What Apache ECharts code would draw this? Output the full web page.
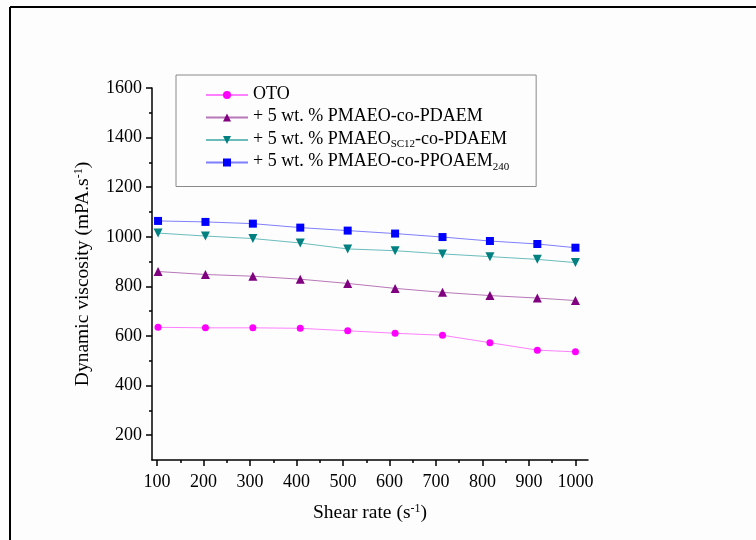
<!DOCTYPE html>
<html>
<head>
<meta charset="utf-8">
<script src="https://cdn.jsdelivr.net/npm/echarts@6/dist/echarts.min.js"></script>
<style>html,body{margin:0;padding:0;background:#fdfdfd;}#c{width:756px;height:540px;}</style>
</head>
<body>
<div id="c"></div>
<script>
// ---- data ----
var shearRate = [102, 204, 306, 408, 510, 612, 714, 816, 918, 1000];
var oto       = [635, 633, 633, 631, 621, 611, 603, 573, 543, 536];
var pdaem     = [860, 848, 841, 829, 812, 792, 776, 763, 753, 743];
var sc12      = [1015, 1003, 993, 975, 951, 944, 931, 920, 909, 896];
var ppoaem    = [1064, 1060, 1053, 1037, 1025, 1013, 999, 983, 971, 956];
var seriesNames = ['OTO', '+ 5 wt. % PMAEO-co-PDAEM', '+ 5 wt. % PMAEOSC12-co-PDAEM', '+ 5 wt. % PMAEO-co-PPOAEM240'];
var xTicks = [100, 200, 300, 400, 500, 600, 700, 800, 900, 1000];
var xMinorTicks = [150, 250, 350, 450, 550, 650, 750, 850, 950];
var yTicks = [200, 400, 600, 800, 1000, 1200, 1400, 1600];
var yMinorTicks = [300, 500, 700, 900, 1100, 1300, 1500];

var FONT = "'Liberation Serif', 'Times New Roman', serif";
function pairs(ys) { return shearRate.map(function (x, i) { return [x, ys[i]]; }); }
function plain(v) { return String(v); }

var legendRich = {
  m: { fontSize: 18, fontFamily: FONT, lineHeight: 20, verticalAlign: 'top' },
  sub: { fontSize: 11, fontFamily: FONT, lineHeight: 6, padding: [14, 0, 0, 0], verticalAlign: 'bottom' }
};
var legendLabels = {};
legendLabels[seriesNames[0]] = '{m|OTO}{sub| }';
legendLabels[seriesNames[1]] = '{m|+ 5 wt. % PMAEO-co-PDAEM}{sub| }';
legendLabels[seriesNames[2]] = '{m|+ 5 wt. % PMAEO}{sub|SC12}{m|-co-PDAEM}';
legendLabels[seriesNames[3]] = '{m|+ 5 wt. % PMAEO-co-PPOAEM}{sub|240}';

var styles = [
  { line: '#ff80ff', mark: '#ff00ff', text: '#ff00ff', symbol: 'circle', size: 7, rot: 0 },
  { line: '#b877b8', mark: '#800080', text: '#800080', symbol: 'triangle', size: 9, rot: 0 },
  { line: '#6cbcbc', mark: '#008080', text: '#1a9a1a', symbol: 'triangle', size: 9, rot: 180 },
  { line: '#7f7fff', mark: '#0000ff', text: '#1a1aff', symbol: 'rect', size: 8, rot: 0 }
];
var values = [oto, pdaem, sc12, ppoaem];
var supRich = { sup: { fontSize: 12, lineHeight: 12, padding: [0, 0, 10, 0], verticalAlign: 'top' } };

var chart = echarts.init(document.getElementById('c'), null, { renderer: 'canvas' });
var option = {
  backgroundColor: '#fdfdfd',
  animation: false,
  textStyle: { fontFamily: FONT, color: '#000' },
  grid: { left: 152, right: 168, top: 88, bottom: 80, containLabel: false },
  legend: {
    orient: 'vertical',
    left: 176, top: 75,
    padding: [5, 27, 14, 29],
    borderColor: '#8a8a8a', borderWidth: 1,
    backgroundColor: '#fdfdfd',
    itemWidth: 42, itemHeight: 10, itemGap: -2.5,
    textStyle: { fontSize: 18, fontFamily: FONT, rich: legendRich },
    formatter: function (n) { return legendLabels[n]; },
    data: seriesNames.map(function (n, i) { return { name: n, textStyle: { color: styles[i].text } }; })
  },
  xAxis: [{
    type: 'value', min: 89, max: 1027,
    name: 'Shear rate (s{sup|-1})', nameLocation: 'middle', nameGap: 43,
    nameTextStyle: { fontSize: 19.5, fontFamily: FONT, color: '#000', rich: supRich },
    axisLine: { show: true, onZero: false, lineStyle: { color: '#000', width: 1.5 } },
    axisTick: { show: true, inside: false, length: 6, customValues: xTicks, lineStyle: { color: '#000', width: 1.5 } },
    axisLabel: { customValues: xTicks, formatter: plain, fontSize: 18, fontFamily: FONT, color: '#000', margin: 13 },
    splitLine: { show: false }
  }, {
    type: 'value', min: 89, max: 1027, position: 'bottom',
    axisLine: { show: false },
    axisTick: { show: true, inside: false, length: 3, customValues: xMinorTicks, lineStyle: { color: '#000', width: 1.5 } },
    axisLabel: { show: false },
    splitLine: { show: false }
  }],
  yAxis: [{
    type: 'value', min: 100, max: 1600,
    name: 'Dynamic viscosity (mPA.s{sup|-1})', nameLocation: 'middle', nameGap: 50,
    nameTextStyle: { fontSize: 19.5, fontFamily: FONT, color: '#000', rich: supRich },
    axisLine: { show: true, onZero: false, lineStyle: { color: '#000', width: 1.5 } },
    axisTick: { show: true, inside: false, length: 6, customValues: yTicks, lineStyle: { color: '#000', width: 1.5 } },
    axisLabel: { customValues: yTicks, formatter: plain, fontSize: 18, fontFamily: FONT, color: '#000', margin: 10 },
    splitLine: { show: false }
  }, {
    type: 'value', min: 100, max: 1600, position: 'left',
    axisLine: { show: false },
    axisTick: { show: true, inside: false, length: 3, customValues: yMinorTicks, lineStyle: { color: '#000', width: 1.5 } },
    axisLabel: { show: false },
    splitLine: { show: false }
  }],
  series: seriesNames.map(function (n, i) {
    var s = styles[i];
    return {
      name: n, type: 'line', xAxisIndex: 0, yAxisIndex: 0,
      data: pairs(values[i]),
      symbol: s.symbol, symbolSize: s.size, symbolRotate: s.rot,
      showAllSymbol: true,
      lineStyle: { color: s.line, width: 1 },
      itemStyle: { color: s.mark },
      z: 3 + i
    };
  }),
  graphic: [
    { type: 'line', shape: { x1: 10, y1: 7, x2: 756, y2: 7 }, style: { stroke: '#000', lineWidth: 2 }, silent: true },
    { type: 'line', shape: { x1: 10, y1: 7, x2: 10, y2: 540 }, style: { stroke: '#000', lineWidth: 2 }, silent: true }
  ]
};
chart.setOption(option);
</script>
</body>
</html>
